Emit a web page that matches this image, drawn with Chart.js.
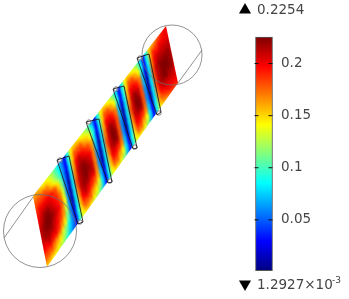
<!DOCTYPE html>
<html>
<head>
<meta charset="utf-8">
<script src="https://cdn.jsdelivr.net/npm/chart.js@4"></script>
<style>
  html, body { margin: 0; background: #fff; }
  canvas { display: block; }
</style>
</head>
<body>
<canvas id="chart" width="349" height="299"></canvas>
<script>
// field, hundredths, one row per step across the band
const fieldRow0 = [16,16,15,14,14,13,12,10,8,6,3, 9,14,15,15,14,13,12,10,7,3, 9,14,15,14,13,11,8,3, 9,14,15,14,13,11,8,3, 9,15,16,17,18,19,20,20];
const fieldRow1 = [18,18,18,18,17,15,13,11,9,6,3, 9,15,18,18,18,16,15,13,9,3, 9,15,18,18,16,14,9,3, 9,15,18,18,16,14,9,3, 9,16,19,19,20,20,20,20];
const fieldRow2 = [19,20,20,20,20,19,18,15,11,6,2, 8,16,20,21,20,19,18,16,8,2, 8,16,20,20,19,17,7,2, 8,16,20,20,19,17,7,2, 8,17,20,21,21,21,21,21];
const fieldRow3 = [20,21,22,22,21,20,19,17,13,6,1, 8,17,21,22,22,21,20,17,7,1, 8,17,21,22,21,18,7,1, 8,17,21,22,21,18,7,1, 8,18,21,22,22,22,22,21];
const fieldRow4 = [21,22,23,23,22,21,20,18,14,6,1, 8,18,21,22,23,22,21,17,6,1, 8,18,21,23,22,18,6,1, 8,18,21,23,22,18,6,1, 8,18,21,22,23,23,22,21];
const fieldRow5 = [21,22,22,22,21,20,19,17,13,6,1, 8,17,21,22,22,21,21,17,6,1, 8,17,21,22,22,18,6,1, 8,17,21,22,22,18,6,1, 8,18,21,22,23,22,22,21];
const fieldRow6 = [20,20,21,20,20,19,17,15,11,6,2, 8,16,20,21,20,19,18,16,7,2, 8,16,20,20,19,17,7,2, 8,16,20,20,19,17,7,2, 8,17,20,21,21,21,21,20];
const fieldRow7 = [18,18,18,17,16,15,13,11,8,6,3, 9,15,18,18,18,16,15,13,8,3, 9,15,18,18,16,14,8,3, 9,15,18,18,16,14,8,3, 9,16,18,19,20,20,20,20];
const fieldRow8 = [15,15,14,14,13,12,11,9,7,5,3, 9,13,14,15,14,13,12,10,7,3, 9,13,14,14,13,11,7,3, 9,13,14,14,13,11,7,3, 9,14,15,16,17,18,18,19];
const fieldRows = [fieldRow0, fieldRow1, fieldRow2, fieldRow3, fieldRow4, fieldRow5, fieldRow6, fieldRow7, fieldRow8];

const colorbarTicks = [0.05, 0.1, 0.15, 0.2];
const fieldMin = 0.0012927;
const fieldMax = 0.2254;

// geometry in plot units
const bandTopEnds = [[33, 196], [166, 26]];
const bandBottomEnds = [[47, 267], [178, 83]];
const outerCircles = [[40, 231, 36.5], [172, 55, 30]];
const chords = [[[33, 197], [4, 238]], [[178, 83], [202, 50]]];
const frames = [
  [[57, 160], [69, 156], [83, 222], [78, 224]],
  [[86, 122], [99, 119], [112, 182], [108, 183]],
  [[113, 89], [124, 86], [137, 148], [133, 149]],
  [[137, 58], [149, 54], [161, 112], [157, 115]]
];

const jetStops = [[0, [0, 0, 128]], [0.125, [0, 0, 255]], [0.375, [0, 255, 255]], [0.5, [128, 255, 128]], [0.625, [255, 255, 0]], [0.875, [255, 0, 0]], [1, [128, 0, 0]]];

function jet(t) {
  t = Math.min(1, Math.max(0, t));
  for (let i = 1; i < jetStops.length; i++) {
    if (t <= jetStops[i][0]) {
      const [t0, c0] = jetStops[i - 1];
      const [t1, c1] = jetStops[i];
      const f = (t - t0) / (t1 - t0);
      return `rgb(${c0.map((c, k) => Math.round(c + (c1[k] - c) * f)).join(",")})`;
    }
  }
  return "rgb(128,0,0)";
}
const colorOf = (v) => jet((v - fieldMin) / (fieldMax - fieldMin));

function bandPoint(u, v) {
  const top = [0, 1].map((k) => bandTopEnds[0][k] + (bandTopEnds[1][k] - bandTopEnds[0][k]) * u);
  const bottom = [0, 1].map((k) => bandBottomEnds[0][k] + (bandBottomEnds[1][k] - bandBottomEnds[0][k]) * u);
  return { x: top[0] + (bottom[0] - top[0]) * v, y: top[1] + (bottom[1] - top[1]) * v };
}

const columnCount = fieldRow0.length;

function segmentColor(ctx, col) {
  const v0 = fieldRows[ctx.p0DataIndex][col] / 100;
  const v1 = fieldRows[ctx.p1DataIndex][col] / 100;
  // points have no pixels yet on the very first pass
  if (!Number.isFinite(ctx.p0.x) || !Number.isFinite(ctx.p1.x) || !Number.isFinite(ctx.p0.y) || !Number.isFinite(ctx.p1.y)) return colorOf(v0);
  const g = ctx.chart.ctx.createLinearGradient(ctx.p0.x, ctx.p0.y, ctx.p1.x, ctx.p1.y);
  for (let i = 0; i <= 4; i++) g.addColorStop(i / 4, colorOf(v0 + (v1 - v0) * i / 4));
  return g;
}

const xy = (p) => ({ x: p[0], y: p[1] });
const outline = { type: "line", pointRadius: 0, fill: false };

const overlay = [
  { ...outline, showLine: false, data: [{ x: 245, y: 10 }], pointStyle: "triangle", pointRadius: 7, backgroundColor: "#000", borderWidth: 0 },
  { ...outline, showLine: false, data: [{ x: 245, y: 284 }], pointStyle: "triangle", pointRadius: 7, pointRotation: 180, backgroundColor: "#000", borderWidth: 0 },
  ...frames.map((f) => ({ ...outline, data: [...f, f[0]].map(xy), borderColor: "rgba(25,20,30,0.85)", borderWidth: 1 })),
  ...frames.map((f) => ({
    ...outline, showLine: false, data: [{ x: f[0][0] + 3, y: f[0][1] }, { x: f[3][0] + 2, y: f[3][1] - 2 }],
    pointStyle: "circle", pointRadius: 2.2, borderColor: "rgba(120,120,120,0.9)", pointBorderWidth: 1, backgroundColor: "rgba(255,255,255,0.35)"
  })),
  ...outerCircles.map((c) => ({
    ...outline, showLine: false, data: [{ x: c[0], y: c[1] }],
    pointStyle: "circle", pointRadius: c[2], backgroundColor: "rgba(0,0,0,0)", borderColor: "rgba(110,110,110,0.75)", pointBorderWidth: 1
  })),
  ...chords.map((c) => ({ ...outline, data: c.map(xy), borderColor: "rgba(110,110,110,0.75)", borderWidth: 1 })),
  ...[256.5, 270.5].map((x) => ({
    ...outline, showLine: false, yAxisID: "yBar", data: colorbarTicks.map((t) => ({ x: x, y: t })),
    pointStyle: "line", pointRadius: 2, borderColor: "#111", pointBorderWidth: 1
  })),
  {
    type: "bar", yAxisID: "yBar", barThickness: 17, borderColor: "#555", borderWidth: 1, borderSkipped: false,
    data: [{ x: 264, y: [fieldMin, fieldMax] }],
    backgroundColor: (ctx) => {
      const s = ctx.chart.scales.yBar;
      const y0 = s ? s.getPixelForValue(fieldMin) : NaN;
      const y1 = s ? s.getPixelForValue(fieldMax) : NaN;
      if (!Number.isFinite(y0) || !Number.isFinite(y1)) return "#888";
      const g = ctx.chart.ctx.createLinearGradient(0, y0, 0, y1);
      jetStops.forEach(([t]) => g.addColorStop(t, jet(t)));
      return g;
    }
  }
];

const firstBand = overlay.length;

const columns = [];
for (let c = 0; c < columnCount; c++) {
  columns.push({
    type: "line", pointRadius: 0, fill: false, borderWidth: 5, borderCapStyle: "square", tension: 0,
    data: fieldRows.map((row, r) => bandPoint(c / (columnCount - 1), r / (fieldRows.length - 1))),
    segment: { borderColor: (ctx) => segmentColor(ctx, c) }
  });
}

// softens the columns into the blurry look and trims the ends of the band
const bandFinish = {
  id: "bandFinish",
  afterDatasetDraw(chart, args) {
    if (args.index !== firstBand) return;
    const { ctx, canvas } = chart;
    const copy = document.createElement("canvas");
    copy.width = canvas.width;
    copy.height = canvas.height;
    copy.getContext("2d").drawImage(canvas, 0, 0);
    const px = (p) => [chart.scales.x.getPixelForValue(p[0]), chart.scales.y.getPixelForValue(p[1])];
    ctx.save();
    ctx.clearRect(0, 0, canvas.width, canvas.height);
    ctx.beginPath();
    ctx.moveTo(...px(bandTopEnds[0]));
    ctx.lineTo(...px(bandTopEnds[1]));
    ctx.lineTo(...px(bandBottomEnds[1]));
    ctx.lineTo(...px(bandBottomEnds[0]));
    ctx.closePath();
    ctx.clip();
    ctx.filter = "blur(0.9px)";
    ctx.drawImage(copy, 0, 0);
    ctx.restore();
  }
};

const extremes = {
  id: "extremes",
  afterDraw(chart) {
    const { ctx } = chart;
    ctx.save();
    ctx.fillStyle = "#444";
    ctx.textBaseline = "middle";
    ctx.textAlign = "left";
    ctx.font = "13.5px 'DejaVu Sans'";
    ctx.fillText("0.2254", 257, 10);
    ctx.fillText("1.2927×10", 257, 285);
    ctx.font = "9px 'DejaVu Sans'";
    ctx.fillText("-3", 332, 281);
    ctx.restore();
  }
};

// big ring markers would otherwise push the plot area inwards
Chart.registry.getController("line").prototype.getMaxOverflow = () => 0;

new Chart(document.getElementById("chart"), {
  type: "scatter",
  data: { datasets: [...overlay, ...columns] },
  plugins: [bandFinish, extremes],
  options: {
    responsive: false,
    animation: false,
    layout: { autoPadding: false, padding: 0 },
    plugins: { legend: { display: false }, tooltip: { enabled: false } },
    scales: {
      x: { type: "linear", min: 0, max: 274, offset: false, display: false },
      y: { type: "linear", min: 0, max: 299, reverse: true, display: false },
      yBar: {
        type: "linear", position: "right", min: -0.026, max: 0.261,
        grid: { display: false, drawTicks: false },
        border: { display: false },
        afterBuildTicks: (axis) => { axis.ticks = colorbarTicks.map((value) => ({ value })); },
        afterFit: (axis) => { axis.width = 75; axis.paddingTop = 0; axis.paddingBottom = 0; },
        ticks: {
          z: 1, padding: 7, color: "#444", font: { family: "'DejaVu Sans'", size: 13.5 },
          callback: (v) => String(v)
        }
      }
    }
  }
});
</script>
</body>
</html>
